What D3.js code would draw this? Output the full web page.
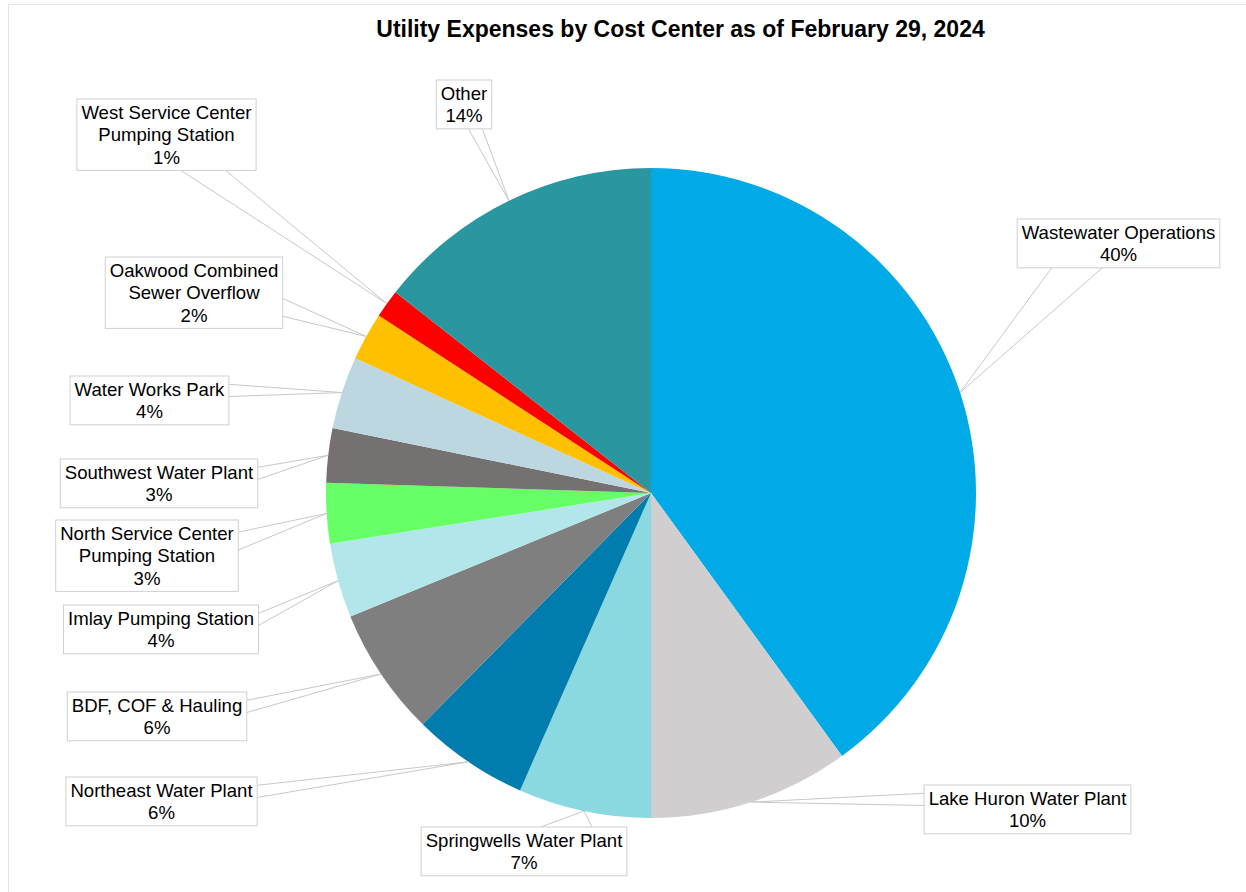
<!DOCTYPE html>
<html>
<head>
<meta charset="utf-8">
<script src="https://cdn.jsdelivr.net/npm/d3@7"></script>
<style>
  html, body { margin: 0; padding: 0; background: #fff; }
  svg { display: block; }
</style>
</head>
<body>
<svg id="chart" width="1246" height="892"></svg>
<script>
// ---- data ----
const categories = [
  "Wastewater Operations",
  "Lake Huron Water Plant",
  "Springwells Water Plant",
  "Northeast Water Plant",
  "BDF, COF & Hauling",
  "Imlay Pumping Station",
  "North Service Center Pumping Station",
  "Southwest Water Plant",
  "Water Works Park",
  "Oakwood Combined Sewer Overflow",
  "West Service Center Pumping Station",
  "Other"
];
const values = [40.0, 10.0, 6.6, 5.8, 6.4, 3.7, 3.0, 2.7, 3.6, 2.4, 1.4, 14.4];
const labelLines = [
  ["Wastewater Operations"],
  ["Lake Huron Water Plant"],
  ["Springwells Water Plant"],
  ["Northeast Water Plant"],
  ["BDF, COF & Hauling"],
  ["Imlay Pumping Station"],
  ["North Service Center", "Pumping Station"],
  ["Southwest Water Plant"],
  ["Water Works Park"],
  ["Oakwood Combined", "Sewer Overflow"],
  ["West Service Center", "Pumping Station"],
  ["Other"]
];
const colors = ["#00AAE6", "#D0CECE", "#8AD8E0", "#007DAE", "#7F7F7F", "#B2E6EB",
                "#66FF66", "#767171", "#BDD7E0", "#FFC000", "#FF0000", "#2A96A0"];
const title = "Utility Expenses by Cost Center as of February 29, 2024";

// ---- layout (label box placement: center x, top y, side of leader) ----
const labelLayout = [
  {cx: 1118.5, top: 219, side: "bottom"},
  {cx: 1027.5, top: 785, side: "left"},
  {cx: 524,    top: 827, side: "top"},
  {cx: 161.5,  top: 777, side: "right"},
  {cx: 157,    top: 692, side: "right"},
  {cx: 161,    top: 605, side: "right"},
  {cx: 147,    top: 520, side: "right"},
  {cx: 159,    top: 459, side: "right"},
  {cx: 149.5,  top: 376, side: "right"},
  {cx: 194,    top: 257, side: "right"},
  {cx: 166.5,  top: 99,  side: "bottom"},
  {cx: 464,    top: 80,  side: "bottom"}
];

const W = 1246, H = 892;
const cx = 651, cy = 493, R = 325;
const fontSize = 18.6, lineH = 22.6, padX = 4.5, padY = 1.8;
const font = "'Liberation Sans', Arial, sans-serif";

const svg = d3.select("#chart");

// frame
svg.append("rect")
  .attr("x", 8.5).attr("y", 4.5).attr("width", W + 20).attr("height", H + 20)
  .attr("fill", "#fff").attr("stroke", "#e6e6e6").attr("stroke-width", 1);

// title
svg.append("text")
  .attr("x", 680.5).attr("y", 36.5)
  .attr("text-anchor", "middle")
  .attr("font-family", font).attr("font-weight", "bold").attr("font-size", 23)
  .attr("fill", "#000")
  .text(title);

const data = categories.map((c, i) => ({name: c, value: values[i], i}));
const pie = d3.pie().value(d => d.value).sort(null);
const arcs = pie(data);
const total = d3.sum(values);
const arc = d3.arc().innerRadius(0).outerRadius(R);

const g = svg.append("g").attr("transform", `translate(${cx},${cy})`);
g.selectAll("path.slice").data(arcs).join("path")
  .attr("class", "slice")
  .attr("d", arc)
  .attr("fill", d => colors[d.data.i]);

// labels
const labelG = svg.append("g");
arcs.forEach((a, k) => {
  const i = a.data.i;
  const lay = labelLayout[i];
  const lines = labelLines[i].concat([Math.round(a.data.value / total * 100) + "%"]);
  const mid = (a.startAngle + a.endAngle) / 2;
  const tip = [cx + R * Math.sin(mid), cy - R * Math.cos(mid)];

  const grp = labelG.append("g");
  const texts = lines.map((t, j) => grp.append("text")
    .attr("x", lay.cx)
    .attr("y", lay.top + padY + (j + 0.5) * lineH + 0.35 * fontSize)
    .attr("text-anchor", "middle")
    .attr("font-family", font).attr("font-size", fontSize)
    .attr("fill", "#000")
    .text(t));
  const tw = d3.max(texts, t => t.node().getComputedTextLength());
  const bw = tw + 2 * padX;
  const bh = lines.length * lineH + 2 * padY;
  const x0 = lay.cx - bw / 2, y0 = lay.top;

  // leader (callout wedge) base points on chosen side
  let b1, b2;
  const fr = (first) => first ? [0.17, 0.42] : [0.58, 0.83];
  if (lay.side === "bottom" || lay.side === "top") {
    const yy = lay.side === "bottom" ? y0 + bh : y0;
    const f = fr(tip[0] < lay.cx);
    b1 = [x0 + f[0] * bw, yy]; b2 = [x0 + f[1] * bw, yy];
  } else {
    const xx = lay.side === "right" ? x0 + bw : x0;
    const f = fr(tip[1] < y0 + bh / 2);
    b1 = [xx, y0 + f[0] * bh]; b2 = [xx, y0 + f[1] * bh];
  }
  grp.insert("path", "text")
    .attr("d", `M${b1[0]},${b1[1]}L${tip[0]},${tip[1]}L${b2[0]},${b2[1]}`)
    .attr("fill", "none").attr("stroke", "#c8c8c8").attr("stroke-width", 1);
  grp.insert("rect", "text")
    .attr("x", x0).attr("y", y0).attr("width", bw).attr("height", bh)
    .attr("fill", "#fff").attr("stroke", "#d0d0d0").attr("stroke-width", 1);
});
</script>
</body>
</html>
